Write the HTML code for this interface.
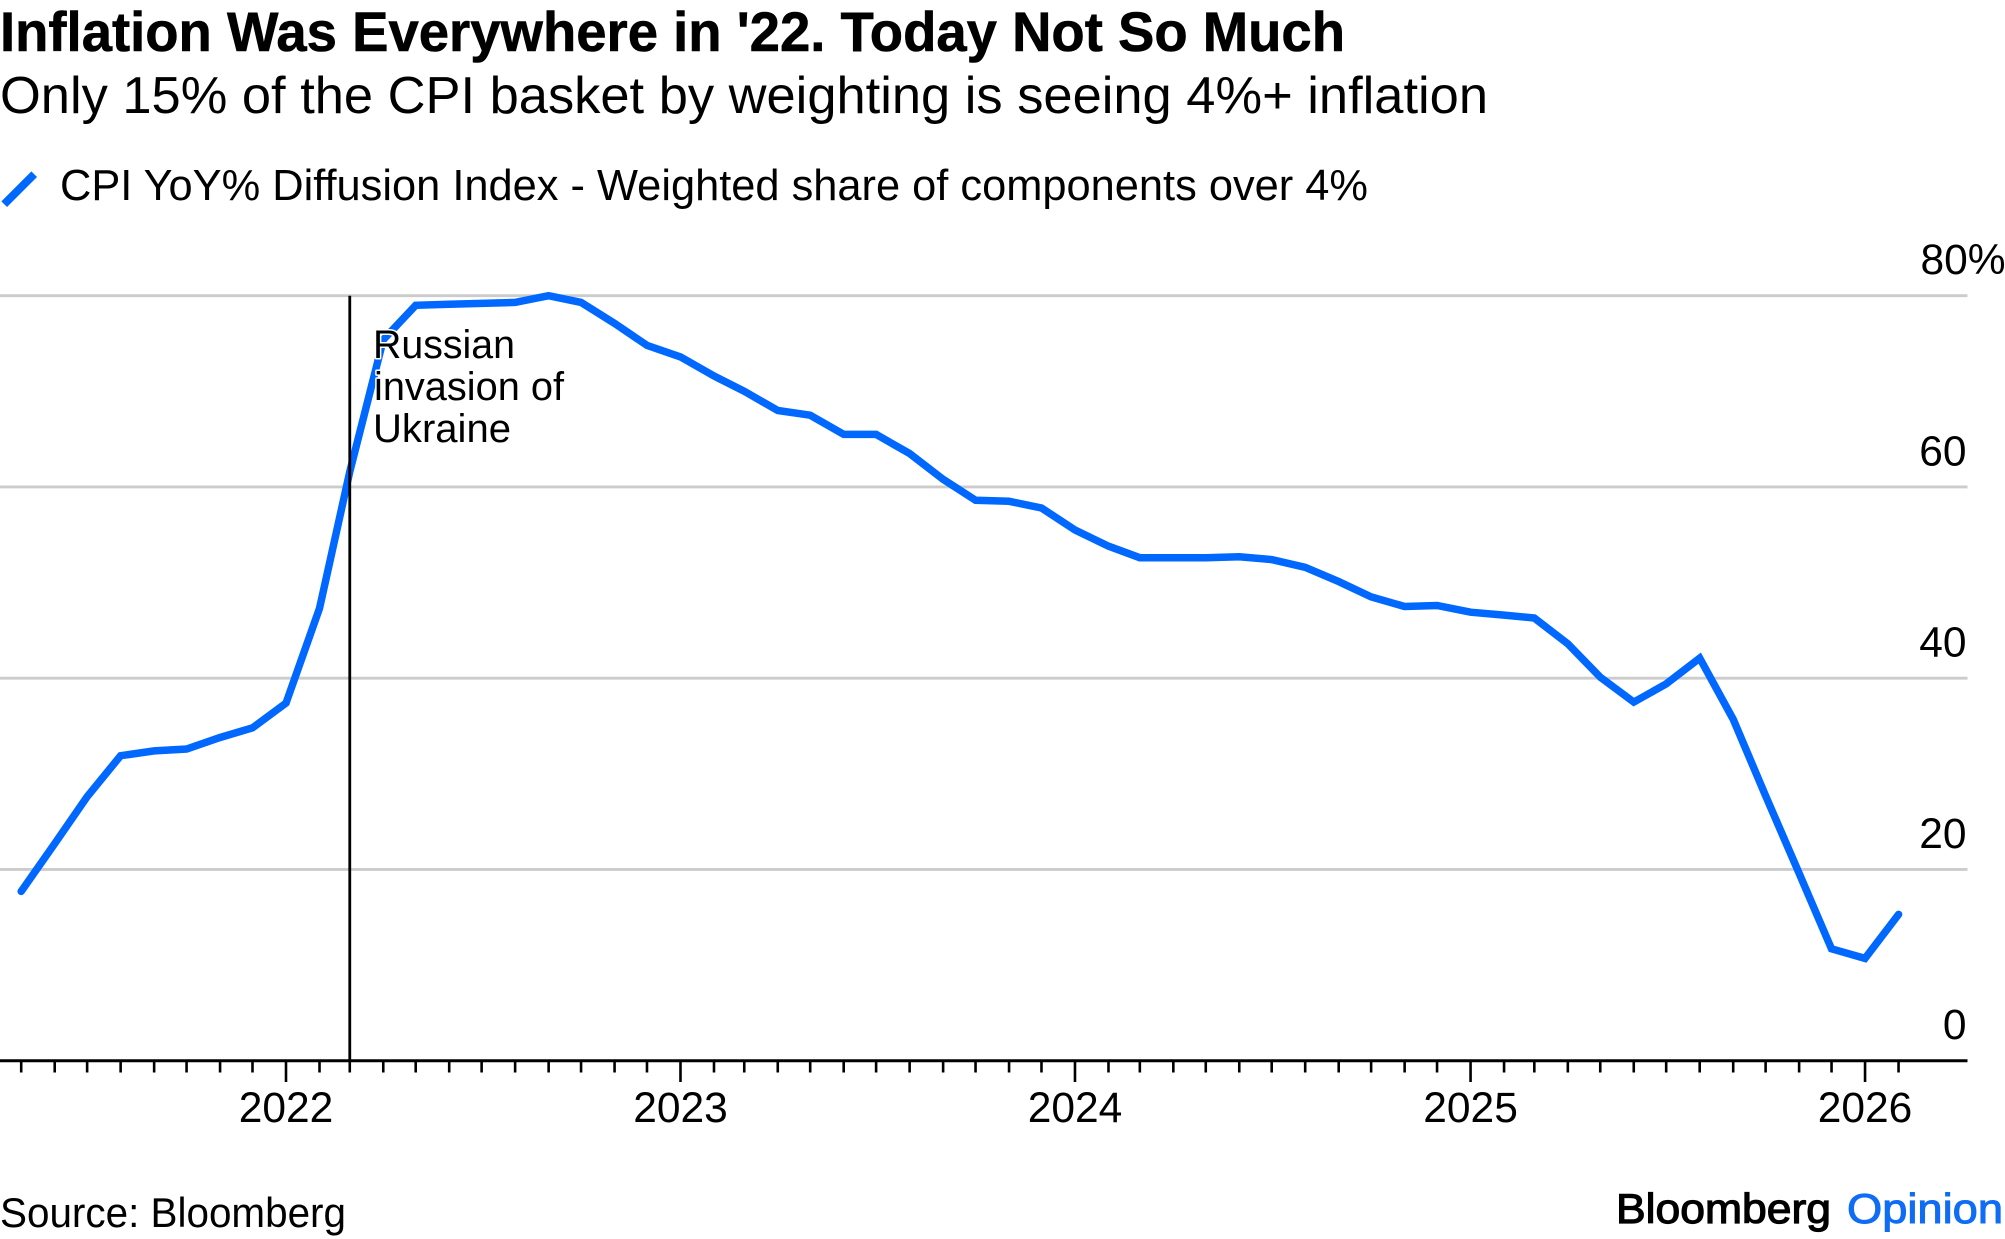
<!DOCTYPE html>
<html lang="en">
<head>
<meta charset="utf-8">
<title>Inflation Was Everywhere in '22. Today Not So Much</title>
<style>
  html, body { margin: 0; padding: 0; background: #fff; }
  svg { display: block; }
  text { font-family: "Liberation Sans", Arial, sans-serif; fill: #000; }
</style>
</head>
<body>
<svg id="chart" xmlns="http://www.w3.org/2000/svg" width="2005" height="1239" viewBox="0 0 2005 1239">
  <rect x="0" y="0" width="2005" height="1239" fill="#fff"/>
  <text x="0" y="51" font-size="56" font-weight="700" textLength="1345" lengthAdjust="spacingAndGlyphs" style="stroke:#000;stroke-width:0.6px">Inflation Was Everywhere in '22. Today Not So Much</text>
  <text x="0" y="113" font-size="52" textLength="1488" lengthAdjust="spacingAndGlyphs">Only 15% of the CPI basket by weighting is seeing 4%+ inflation</text>
  <line x1="4.2" y1="204.2" x2="34.2" y2="174.2" stroke="#0068ff" stroke-width="8"/>
  <text x="60" y="200" font-size="43.5" textLength="1308" lengthAdjust="spacingAndGlyphs">CPI YoY% Diffusion Index - Weighted share of components over 4%</text>
  <g id="grid-layer"></g>
  <g id="tick-layer"></g>
  <g id="y-label-layer"></g>
  <path id="series-line" fill="none" stroke="#0068ff" stroke-width="7.5" stroke-linejoin="miter" stroke-linecap="round"></path>
  <line id="event-line" stroke="#000" stroke-width="2.8"></line>
  <g font-size="40" style="paint-order: stroke; stroke: #fff; stroke-width: 3px; stroke-linejoin: round;">
    <text x="373" y="358" textLength="142" lengthAdjust="spacingAndGlyphs">Russian</text>
    <text x="374" y="400" textLength="190" lengthAdjust="spacingAndGlyphs">invasion of</text>
    <text x="373" y="442" textLength="138" lengthAdjust="spacingAndGlyphs">Ukraine</text>
  </g>
  <text x="0" y="1227" font-size="42" textLength="346" lengthAdjust="spacingAndGlyphs">Source: Bloomberg</text>
  <text x="1616" y="1223" font-size="42" textLength="215" lengthAdjust="spacingAndGlyphs" style="stroke:#000;stroke-width:1.2px">Bloomberg</text>
  <text x="1847" y="1223" font-size="42" textLength="156" lengthAdjust="spacingAndGlyphs" style="fill:#0f6cf5;stroke:#0f6cf5;stroke-width:1px">Opinion</text>
</svg>
<script>
const months = [
  "2021-05","2021-06","2021-07","2021-08","2021-09","2021-10","2021-11","2021-12",
  "2022-01","2022-02","2022-03","2022-04","2022-05","2022-06","2022-07","2022-08","2022-09","2022-10","2022-11","2022-12",
  "2023-01","2023-02","2023-03","2023-04","2023-05","2023-06","2023-07","2023-08","2023-09","2023-10","2023-11","2023-12",
  "2024-01","2024-02","2024-03","2024-04","2024-05","2024-06","2024-07","2024-08","2024-09","2024-10","2024-11","2024-12",
  "2025-01","2025-02","2025-03","2025-04","2025-05","2025-06","2025-07","2025-08","2025-09","2025-10","2025-11","2025-12",
  "2026-01","2026-02"
];
const seriesValues = [
  17.7,22.7,27.6,31.9,32.4,32.6,33.8,34.8,
  37.4,47.3,61.6,75.4,79.0,79.1,79.2,79.3,80.0,79.3,77.1,74.8,
  73.6,71.6,70.0,68.0,67.5,65.5,65.5,63.5,60.8,58.6,58.5,57.8,
  55.5,53.8,52.6,52.6,52.6,52.7,52.4,51.6,50.1,48.5,47.5,47.6,
  46.9,46.6,46.3,43.6,40.1,37.5,39.4,42.1,35.7,27.7,19.6,11.7,
  10.7,15.3
];
const yTickValues = [0, 20, 40, 60, 80];
const yTickLabels = ["0", "20", "40", "60", "80%"];
const xTickYears = ["2022", "2023", "2024", "2025", "2026"];
const eventDate = "2022-03";

const NS = "http://www.w3.org/2000/svg";
function daysSinceOrigin(ym) {
  const parts = ym.split("-");
  return (Date.UTC(+parts[0], +parts[1] - 1, 1) - Date.UTC(2022, 0, 1)) / 86400000;
}
function xScale(ym) { return 286 + daysSinceOrigin(ym) * 1.0808; }
function yScale(v) { return 1060.7 - v * 9.5625; }
function make(tag, attrs, parent) {
  const el = document.createElementNS(NS, tag);
  for (const k in attrs) el.setAttribute(k, attrs[k]);
  parent.appendChild(el);
  return el;
}

const gridLayer = document.getElementById("grid-layer");
const tickLayer = document.getElementById("tick-layer");
const yLabelLayer = document.getElementById("y-label-layer");
const AXIS_RIGHT = 1967.5;

yTickValues.forEach(function (v, i) {
  const y = yScale(v);
  if (v !== 0) {
    const g = make("line", { x1: 0, x2: AXIS_RIGHT, y1: y, y2: y, stroke: "#cccccc", "stroke-width": 2.8 }, gridLayer);
    
    
  }
  const label = make("text", { y: y - 21.5, "font-size": 42.5 }, yLabelLayer);
  
  
  label.textContent = yTickLabels[i];
  if (i === yTickValues.length - 1) {
    label.setAttribute("x", 1920.5);
  } else {
    label.setAttribute("x", 1966.5);
    label.setAttribute("text-anchor", "end");
  }
});

const axisLine = make("line", { x1: 0, x2: AXIS_RIGHT, y1: yScale(0), y2: yScale(0), stroke: "#000", "stroke-width": 3 }, tickLayer);



months.forEach(function (m) {
  const x = xScale(m);
  const isYear = m.endsWith("-01");
  const tick = make("line", { x1: x, x2: x, y1: yScale(0), y2: isYear ? 1082 : 1072.5, stroke: "#000", "stroke-width": 2.6 }, tickLayer);
  
  
});

xTickYears.forEach(function (year) {
  const label = make("text", { x: xScale(year + "-01"), y: 1122, "font-size": 42.5, "text-anchor": "middle" }, tickLayer);
  
  
  label.textContent = year;
});

document.getElementById("series-line").setAttribute("d",
  seriesValues.map(function (v, i) {
    return (i ? "L" : "M") + xScale(months[i]).toFixed(1) + " " + yScale(v).toFixed(1);
  }).join(" "));

const eventLine = document.getElementById("event-line");
eventLine.setAttribute("x1", xScale(eventDate));
eventLine.setAttribute("x2", xScale(eventDate));
eventLine.setAttribute("y1", yScale(80));
eventLine.setAttribute("y2", yScale(0));
</script>
</body>
</html>
